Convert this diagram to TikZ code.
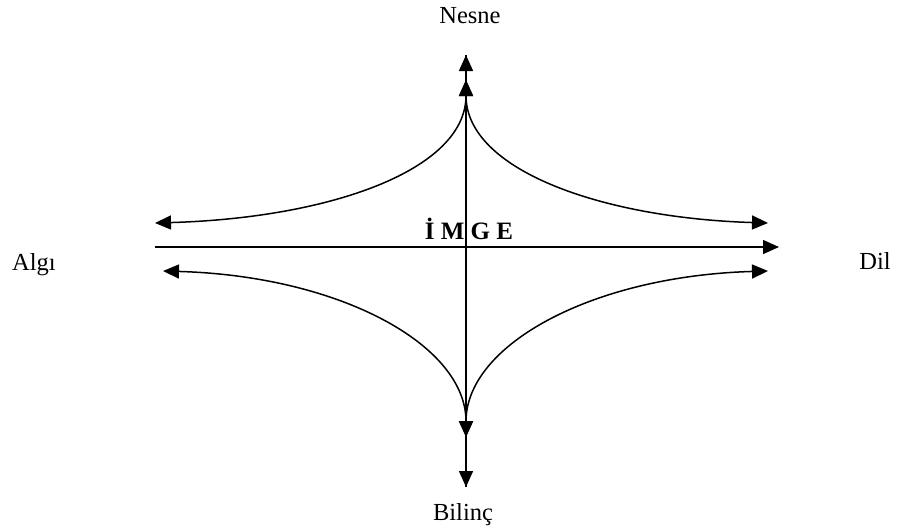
\documentclass[tikz,border=0pt]{standalone}
\usepackage{fontspec}
\setmainfont{Liberation Serif}
\usetikzlibrary{arrows.meta}
\begin{document}
\begin{tikzpicture}[x=1pt,y=-1pt,
  lbl/.style={font=\fontsize{24.5}{28}\selectfont,inner sep=0pt,anchor=base},
  ln/.style={line width=1.5pt},
  arr/.style={ln,-{Triangle[length=16pt,width=14pt]}},
  darr/.style={ln,{Triangle[length=16pt,width=14pt]}-{Triangle[length=16pt,width=14pt]}}]
\useasboundingbox (0,0) rectangle (902,531);
% labels
\node[lbl] (nesne) at (470,23) {Nesne};
\node[lbl] (bilinc) at (463,520) {Bilinç};
\node[lbl] (algi) at (34,270) {Algı};
\node[lbl] (dil) at (875,269) {Dil};
\node[lbl,font=\fontsize{25}{28}\selectfont\bfseries] (imge) at (469,239) {İ M G E};
% axis end points
\coordinate (vt) at (466,55);
\coordinate (vb) at (466,487);
\coordinate (hl) at (155,247);
\coordinate (hr) at (779,247);
\coordinate (ct) at (466,80);
\coordinate (cb) at (466,437);
\coordinate (tl) at (155,223);
\coordinate (tr) at (768,223);
\coordinate (bl) at (163,271);
\coordinate (br) at (768,271);
% axes
\draw[arr] (vb) -- (vt);
\draw[arr] (vt) -- (vb);
\draw[arr] (hl) -- (hr);
% curves
\draw[darr] (tl) .. controls (330,218) and (466,170) .. (ct);
\draw[darr] (tr) .. controls (602,218) and (466,170) .. (ct);
\draw[darr] (bl) .. controls (340,276) and (466,345) .. (cb);
\draw[darr] (br) .. controls (592,276) and (466,345) .. (cb);
\end{tikzpicture}
\end{document}
